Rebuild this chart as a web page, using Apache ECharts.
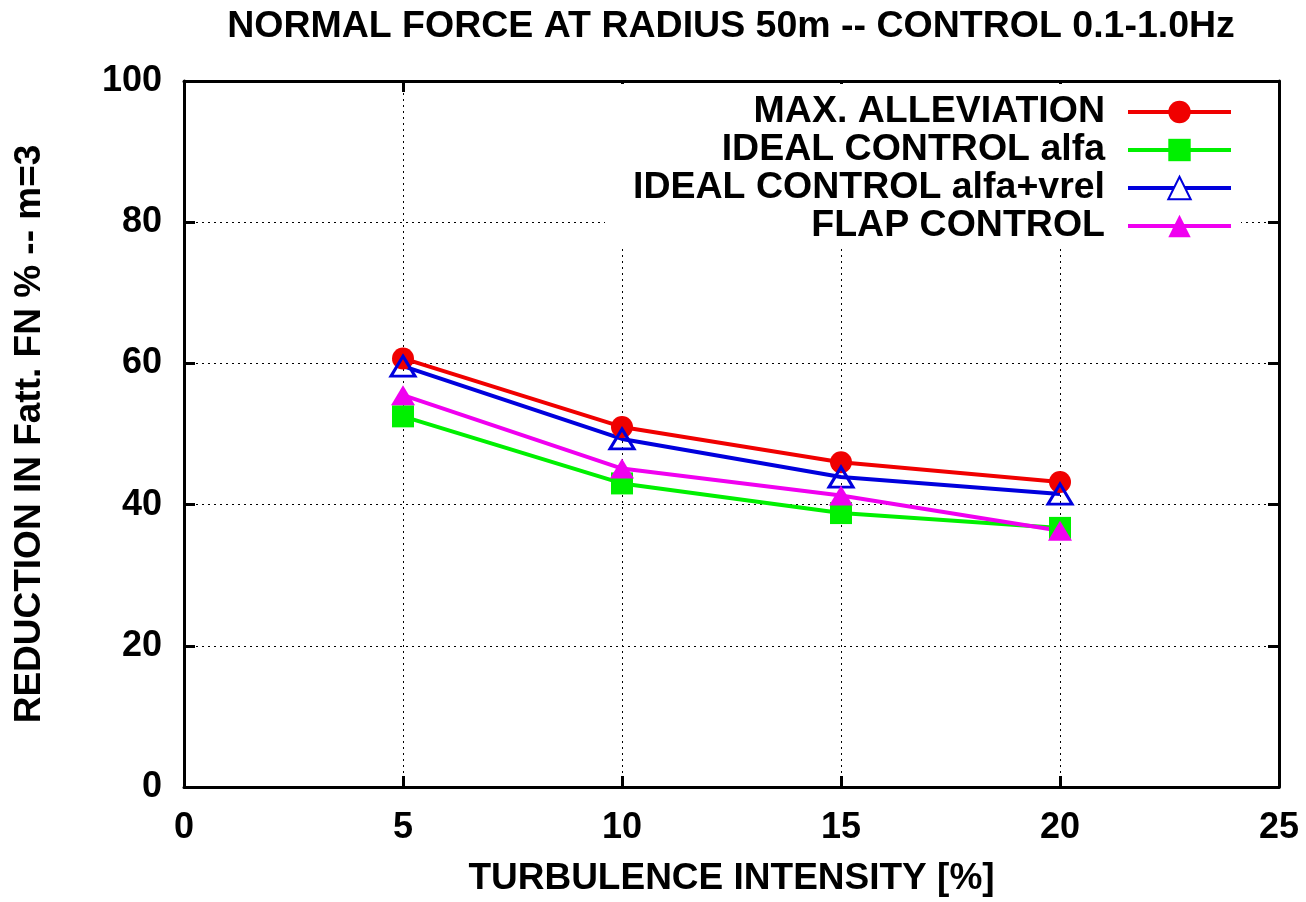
<!DOCTYPE html>
<html>
<head>
<meta charset="utf-8">
<script src="https://cdn.jsdelivr.net/npm/echarts@6/dist/echarts.min.js"></script>
<style>
  html, body { margin: 0; padding: 0; background: #fff; }
  #chart { width: 1306px; height: 902px; }
</style>
</head>
<body>
<div id="chart"></div>
<script>
// turbulence intensity [%]
const turbulence = [5, 10, 15, 20]
// reduction in fatigue normal force [%]
const maxAlleviation = [60.7, 51.0, 46.0, 43.2]
const idealAlfa = [52.5, 43.0, 38.8, 36.7]
const idealAlfaVrel = [59.6, 49.3, 43.9, 41.5]
const flapControl = [55.5, 45.1, 41.3, 36.3]

const FONT = "'Liberation Sans', Arial, Helvetica, sans-serif"
const pairs = ys => turbulence.map((x, i) => [x, ys[i]])

const gridLine = { show: true, lineStyle: { color: '#000', width: 1, type: [2, 4] } }
const frameLine = { show: true, onZero: false, lineStyle: { color: '#000', width: 3 } }
const innerTick = { show: true, inside: true, length: 11, lineStyle: { color: '#000', width: 3 } }
const tickFont = { color: '#000', fontSize: 36, fontWeight: 'bold', fontFamily: FONT }
const nameFont = { color: '#000', fontSize: 37, fontWeight: 'bold', fontFamily: FONT }

const chart = echarts.init(document.getElementById('chart'))

chart.setOption({
    animation: false,
    backgroundColor: '#fff',
    title: {
        text: 'NORMAL FORCE AT RADIUS 50m -- CONTROL 0.1-1.0Hz',
        left: 726,
        top: 3,
        textAlign: 'center',
        textStyle: { color: '#000', fontSize: 37.5, fontWeight: 'bold', fontFamily: FONT },
    },
    grid: { left: 184, right: 27, top: 81, bottom: 113 },
    legend: {
        orient: 'vertical',
        align: 'right',
        right: 65,
        top: 84,
        padding: [9, 8, 4, 28],
        backgroundColor: '#fff',
        itemWidth: 103,
        itemHeight: 28,
        itemGap: 0,
        lineStyle: { width: 4 },
        textStyle: {
            color: '#000', fontSize: 37.5, fontWeight: 'bold', fontFamily: FONT,
            lineHeight: 38, padding: [0, 18, 0, 0],
        },
        data: [
            'MAX. ALLEVIATION',
            'IDEAL CONTROL alfa',
            { name: 'IDEAL CONTROL alfa+vrel', itemStyle: { color: '#fff' } },
            'FLAP CONTROL',
        ],
    },
    xAxis: [
        {
            type: 'value',
            min: 0, max: 25, interval: 5,
            name: 'TURBULENCE INTENSITY [%]',
            nameLocation: 'middle',
            nameGap: 73,
            nameMoveOverlap: false,
            nameTextStyle: nameFont,
            axisLine: frameLine,
            axisTick: innerTick,
            axisLabel: Object.assign({ margin: 23 }, tickFont),
            splitLine: gridLine,
        },
        {
            type: 'value', position: 'top',
            min: 0, max: 25, interval: 5,
            axisLine: frameLine,
            axisTick: innerTick,
            axisLabel: { show: false },
            splitLine: { show: false },
        },
    ],
    yAxis: [
        {
            type: 'value',
            min: 0, max: 100, interval: 20,
            name: 'REDUCTION IN Fatt. FN % -- m=3',
            nameLocation: 'middle',
            nameGap: 136,
            nameTextStyle: nameFont,
            axisLine: frameLine,
            axisTick: innerTick,
            axisLabel: Object.assign({ margin: 22 }, tickFont),
            splitLine: gridLine,
        },
        {
            type: 'value', position: 'right',
            min: 0, max: 100, interval: 20,
            axisLine: frameLine,
            axisTick: innerTick,
            axisLabel: { show: false },
            splitLine: { show: false },
        },
    ],
    series: [
        {
            name: 'MAX. ALLEVIATION',
            type: 'line',
            data: pairs(maxAlleviation),
            symbol: 'circle',
            symbolSize: 22,
            lineStyle: { color: '#f00000', width: 4 },
            itemStyle: { color: '#f00000' },
        },
        {
            name: 'IDEAL CONTROL alfa',
            type: 'line',
            data: pairs(idealAlfa),
            symbol: 'rect',
            symbolSize: 22,
            lineStyle: { color: '#00f000', width: 4 },
            itemStyle: { color: '#00f000' },
        },
        {
            name: 'IDEAL CONTROL alfa+vrel',
            type: 'line',
            data: pairs(idealAlfaVrel),
            symbol: 'triangle',
            symbolSize: [24, 20],
            lineStyle: { color: '#0000dd', width: 4 },
            itemStyle: { color: 'rgba(255,255,255,0)', borderColor: '#0000dd', borderWidth: 3 },
        },
        {
            name: 'FLAP CONTROL',
            type: 'line',
            data: pairs(flapControl),
            symbol: 'triangle',
            symbolSize: [24, 20],
            lineStyle: { color: '#f000f0', width: 4 },
            itemStyle: { color: '#f000f0' },
        },
    ],
})
</script>
</body>
</html>
